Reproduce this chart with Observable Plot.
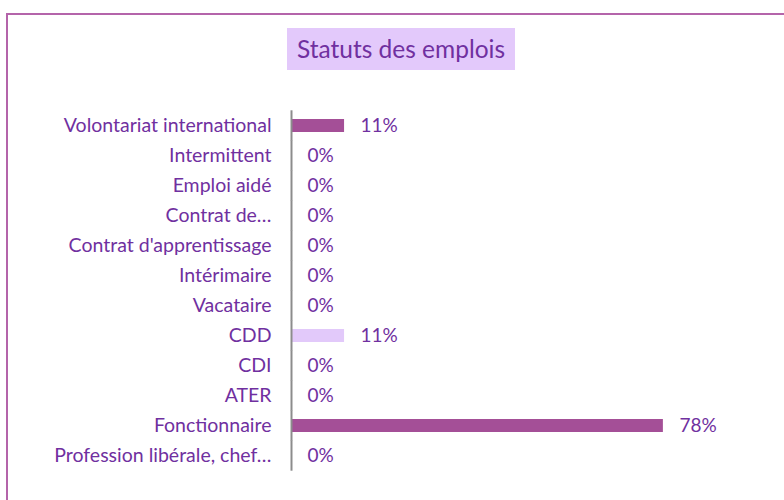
<!DOCTYPE html>
<html>
<head>
<meta charset="utf-8">
<script src="https://cdn.jsdelivr.net/npm/d3@7"></script>
<script src="https://cdn.jsdelivr.net/npm/@observablehq/plot@0.6"></script>
<style>
  html, body { margin: 0; padding: 0; background: #fff; }
  #wrap { position: relative; width: 784px; height: 500px; overflow: hidden; font-family: Lato, "Open Sans", sans-serif; }
  #frame { position: absolute; left: 6px; top: 13px; width: 820px; height: 520px; border: 2px solid #b464aa; box-sizing: border-box; }
  #title { position: absolute; left: 287px; top: 28px; width: 228px; height: 42px; background: #e3c9fb; color: #7030a0; font-size: 24.5px; line-height: 42px; text-align: center; }
  #chart { position: absolute; left: 0; top: 0; }
</style>
</head>
<body>
<div id="wrap">
  <div id="frame"></div>
  <div id="chart"></div>
  <div id="title">Statuts des emplois</div>
</div>
<script>
const categories = [
  "Volontariat international",
  "Intermittent",
  "Emploi aidé",
  "Contrat de…",
  "Contrat d'apprentissage",
  "Intérimaire",
  "Vacataire",
  "CDD",
  "CDI",
  "ATER",
  "Fonctionnaire",
  "Profession libérale, chef…"
];
const values = [11.1, 0, 0, 0, 0, 0, 0, 11.1, 0, 0, 77.8, 0];
const barColors = ["#a44f97", "#a44f97", "#a44f97", "#a44f97", "#a44f97", "#a44f97", "#a44f97", "#e2c9fa", "#a44f97", "#a44f97", "#a44f97", "#a44f97"];

const data = categories.map((c, i) => ({cat: c, value: values[i], color: barColors[i]}));

const chart = Plot.plot({
  width: 784,
  height: 500,
  marginLeft: 291,
  marginRight: 15,
  marginTop: 101,
  marginBottom: 20,
  style: {fontFamily: "Lato, 'Open Sans', sans-serif", color: "#7030a0", background: "transparent"},
  x: {domain: [0, 100], axis: null},
  y: {domain: categories, padding: 0.57, label: null},
  marks: [
    Plot.barX(data, {x: "value", y: "cat", fill: "color"}),
    Plot.tickX(data, {x: () => 0, y: "cat", stroke: "#8c8c8c", strokeWidth: 2, insetTop: -8.7, insetBottom: -8.7}),
    Plot.text(data, {x: "value", y: "cat", text: d => Math.round(d.value) + "%", textAnchor: "start", dx: 16, fontSize: 19, fill: "#7030a0"}),
    Plot.axisY({tickSize: 0, tickPadding: 20, fontSize: 19.5, fill: "#7030a0", label: null})
  ]
});
document.getElementById("chart").appendChild(chart);
</script>
</body>
</html>
